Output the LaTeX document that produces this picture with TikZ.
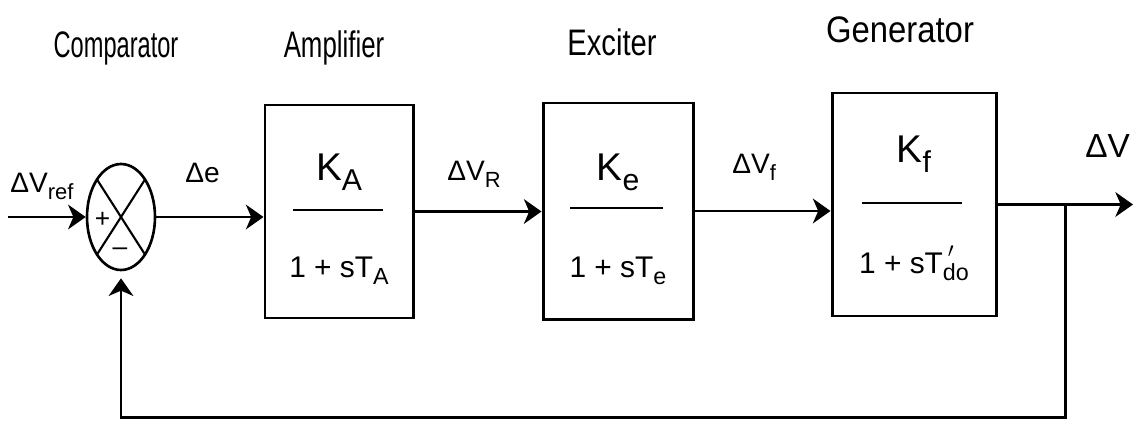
\documentclass[tikz,border=0pt]{standalone}
\usepackage{fontspec}
\setmainfont{Liberation Sans}
\usetikzlibrary{shapes.geometric,arrows.meta}
\newcommand{\lowsub}[1]{\raisebox{-0.5ex}{\scalebox{0.78}{#1}}}

\tikzset{
  block/.style={draw, line width=1.7pt, inner sep=0pt},
  sig/.style={line width=1.7pt, -{Stealth[length=10pt,width=14pt,inset=3pt]}},
  bar/.style={line width=1.6pt},
  lbl/.style={inner sep=0pt, anchor=base west, font=\fontsize{16}{18}\selectfont},
  num/.style={inner sep=0pt, anchor=base, font=\fontsize{22}{24}\selectfont},
  den/.style={inner sep=0pt, anchor=base, font=\fontsize{17}{20}\selectfont},
  ttl/.style={inner sep=0pt, anchor=base, font=\fontsize{21}{24}\selectfont},
  sign/.style={inner sep=0pt, font=\fontsize{15}{16}\selectfont},
}

\begin{document}
\begin{tikzpicture}
  \useasboundingbox[fill=white] (0,0) rectangle (22.7,8.42);
  % Titles
  \node[ttl] (tcomp) at (2.32,7.28) {\scalebox{0.64}[1]{Comparator}};
  \node[ttl] (tamp) at (6.68,7.28) {\scalebox{0.70}[1]{Amplifier}};
  \node[ttl] (texc) at (12.24,7.32) {\scalebox{0.79}[1]{Exciter}};
  \node[ttl] (tgen) at (18.0,7.58) {\scalebox{0.89}[1]{Generator}};
  % Comparator
  \node[draw, ellipse, line width=1.5pt, minimum width=1.36cm, minimum height=2.12cm, inner sep=0pt] (comp) at (2.42,4.08) {};
  \draw[line width=1.2pt] ([shift={(-0.48,0.75)}]comp.center) -- ([shift={(0.48,-0.75)}]comp.center);
  \draw[line width=1.2pt] ([shift={(-0.48,-0.75)}]comp.center) -- ([shift={(0.48,0.75)}]comp.center);
  \node[sign] (plus) at (2.05,4.02) {+};
  \node[sign] (minus) at (2.40,3.38) {–};
  % Blocks
  \node[block, minimum width=2.96cm, minimum height=4.26cm] (amp) at (6.78,4.19) {};
  \node[block, minimum width=3.0cm, minimum height=4.32cm] (exc) at (12.36,4.20) {};
  \node[block, minimum width=3.28cm, minimum height=4.46cm] (gen) at (18.28,4.33) {};
  % Transfer functions
  \draw[bar] ([shift={(-0.92,0.03)}]amp.center) -- ++(1.8,0);
  \node[num] (ampK) at ([yshift=0.63cm]amp.center) {K\lowsub{A}};
  \node[den] (ampT) at ([yshift=-1.31cm]amp.center) {1 + sT\lowsub{A}};
  \draw[bar] ([shift={(-0.96,0.06)}]exc.center) -- ++(1.86,0);
  \node[num] (excK) at ([yshift=0.62cm]exc.center) {K\lowsub{e}};
  \node[den] (excT) at ([yshift=-1.32cm]exc.center) {1 + sT\lowsub{e}};
  \draw[bar] ([shift={(-1.04,0.03)}]gen.center) -- ++(2.0,0);
  \node[num] (genK) at ([yshift=0.85cm]gen.center) {K\lowsub{f}};
  \node[den] (genT) at ([yshift=-1.37cm]gen.center) {1 + sT\rlap{\,\raisebox{0.3ex}{$^{\prime}$}}\lowsub{do}};
  % Signals
  \node[lbl] (vref) at (0.2,4.58) {ΔV\lowsub{ref}};
  \node[lbl] (de) at (3.70,4.78) {Δe};
  \node[lbl] (vr) at (8.94,4.82) {ΔV\lowsub{R}};
  \node[lbl] (vf) at (14.64,4.96) {ΔV\lowsub{f}};
  \node[lbl, font=\fontsize{19}{20}\selectfont] (v) at (21.70,5.28) {ΔV};
  \coordinate (in) at (0.16,4.08);
  \coordinate (out) at (22.66,4.33);
  \coordinate (fb) at (21.3,0.08);
  \draw[sig] (in) -- (comp.west);
  \draw[sig] (comp.east) -- (comp.east -| amp.west);
  \draw[sig] (amp.east) -- (amp.east -| exc.west);
  \draw[sig] (exc.east) -- (exc.east -| gen.west);
  \draw[sig] (gen.east) -- (out);
  % Feedback
  \draw[sig] (gen.east -| fb) -- (fb) -| ([yshift=-0.14cm]comp.south);
\end{tikzpicture}
\end{document}
